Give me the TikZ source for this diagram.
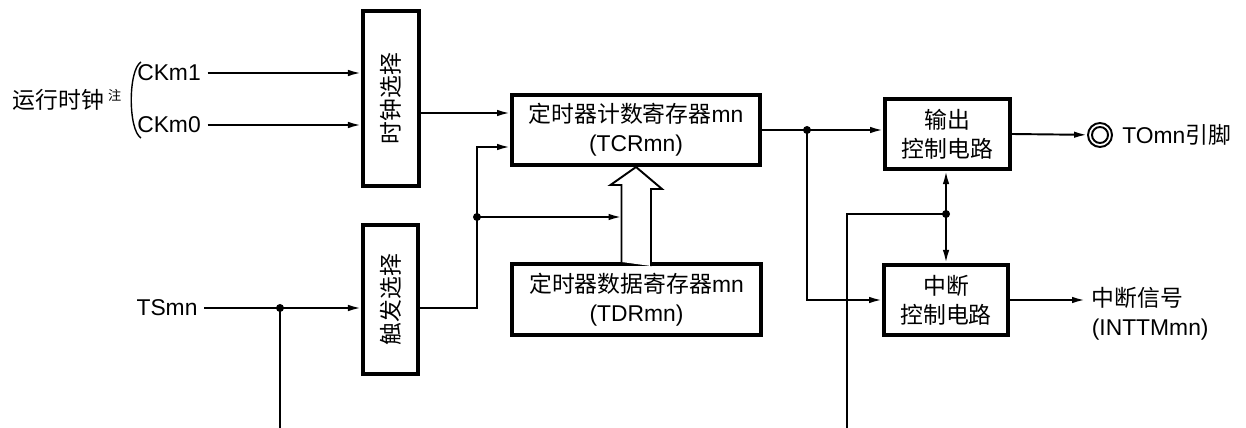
\documentclass[tikz,border=0pt]{standalone}
\usepackage{fontspec}
\setmainfont{Liberation Sans}
\newfontfamily\cjk{Noto Sans CJK SC}
\usetikzlibrary{arrows.meta,positioning}
\newcommand{\zh}[1]{{\cjk #1}}

\begin{document}
\begin{tikzpicture}[x=0.02cm, y=-0.02cm, line width=1.1pt,
        font=\fontsize{13pt}{16.5pt}\selectfont,
        blk/.style={draw, line width=2.3pt, fill=white, align=center, inner sep=0pt},
        arr/.style={-{Latex[length=2.6mm,width=1.3mm]}},
        twoway/.style={{Latex[length=2.6mm,width=1.3mm]}-{Latex[length=2.6mm,width=1.3mm]}}]
    \useasboundingbox (0,0) rectangle (1246,428);

    % blocks
    \node[blk, minimum width=1.12cm, minimum height=3.5cm] (clk) at (391,98.5) {\rotatebox{90}{\zh{时钟选择}}};
    \node[blk, minimum width=1.1cm, minimum height=2.98cm] (trg) at (390.5,299.5) {\rotatebox{90}{\zh{触发选择}}};
    \node[blk, minimum width=4.96cm, minimum height=1.4cm] (tcr) at (636,130) {\zh{定时器计数寄存器}mn\\(TCRmn)};
    \node[blk, minimum width=4.98cm, minimum height=1.42cm] (tdr) at (636.5,299.5) {\zh{定时器数据寄存器}mn\\(TDRmn)};
    \node[blk, minimum width=2.5cm, minimum height=1.4cm] (outc) at (947.5,134) {\zh{输出}\\\zh{控制电路}};
    \node[blk, minimum width=2.48cm, minimum height=1.4cm] (intc) at (946,300) {\zh{中断}\\\zh{控制电路}};

    % inputs and outputs
    \node[anchor=west, inner sep=0pt] (clksrc) at (12,100) {\zh{运行时钟}\,\raisebox{0.7ex}{\fontsize{7.5pt}{7.5pt}\selectfont\zh{注}}};
    \node (ck1) at (169,73) {CKm1};
    \node (ck0) at (169,125) {CKm0};
    \node (ts) at (167,308) {TSmn};
    \node[circle, draw, minimum size=0.48cm, inner sep=0pt] (pin) at (1100,135) {};
    \node[right=0.05cm of pin] (pinlbl) {TOmn\zh{引脚}};
    \node[anchor=west, align=left] (irq) at (1085,314) {\zh{中断信号}\\(INTTMmn)};

    \coordinate (tcr1) at ([yshift=0.34cm]tcr.west);
    \coordinate (tcr2) at ([yshift=-0.34cm]tcr.west);
    \coordinate (hl) at ([xshift=-0.3cm]tdr.north);
    \coordinate (j0) at (280,308);
    \coordinate (j1) at (477,217);
    \coordinate (j2) at (807,130);
    \coordinate (j3) at (946,214);
    \coordinate (b0) at (280,428);
    \coordinate (b3) at (847,428);

    % connectors
    \draw[line width=0.8pt] (141,62) .. controls (128,70) and (128,130) .. (141,138);
    \draw[arr] (ck1) -- (ck1 -| clk.west);
    \draw[arr] (ck0) -- (ck0 -| clk.west);
    \draw[arr] (clk.east |- tcr1) -- (tcr1);
    \draw[arr] (ts) -- (ts -| trg.west);
    \draw (j0) -- (b0);
    \draw[arr] (trg.east |- ts) -| (j1) |- (tcr2);
    \draw[arr] (j1) -- (j1 -| hl);
    \draw[fill=white] (hl) -- ++(0,-77) -- ++(-11,0) -- (tcr.south) -- ++(26,22) -- ++(-11,0) -- ++(0,77);
    \draw[arr] (tcr.east) -- (tcr.east -| outc.west);
    \draw[arr] (j2) |- (intc.west);
    \draw[twoway] (outc.south -| j3) -- (intc.north -| j3);
    \draw (j3) -| (b3);
    \draw[arr] (outc.east) -- (pin);
    \draw (pin.center) circle[radius=0.16cm];
    \draw[arr] (intc.east) -- (intc.east -| irq.west);

    \foreach \j in {j0,j1,j2,j3}
        \fill (\j) circle[radius=0.08cm];
\end{tikzpicture}
\end{document}
